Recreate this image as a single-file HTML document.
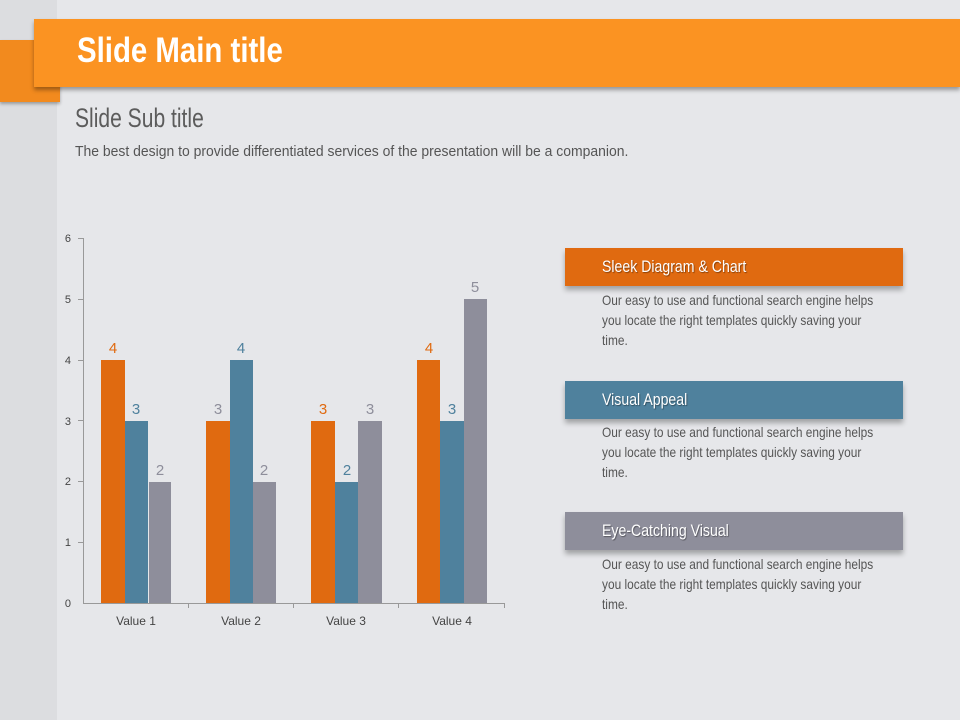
<!DOCTYPE html>
<html><head><meta charset="utf-8"><style>
body{margin:0;width:960px;height:720px;overflow:hidden;background:#e3e4e7;font-family:"Liberation Sans",sans-serif;position:relative}
.strip{position:absolute;left:0;top:0;width:57px;height:720px;background:#dcdde0}
.page{position:absolute;left:57px;top:0;width:903px;height:720px;background:#e6e7ea}
.tab{position:absolute;left:0;top:40px;width:60px;height:62px;background:#f28a1e;box-shadow:0 2px 3px rgba(0,0,0,.3)}
.title{position:absolute;left:34px;top:19px;width:926px;height:68px;background:#fb9322;box-shadow:0 3px 4px rgba(0,0,0,.35)}
.s{display:inline-block;white-space:nowrap;transform-origin:0 0}
.title .s{position:absolute;left:43px;top:12px;color:#fff;font-size:35px;font-weight:bold;transform:scaleX(.84)}
.sub{position:absolute;left:75px;top:103px;font-size:27px;color:#5c5c5c;transform:scaleX(.78)}
.desc{position:absolute;left:75px;top:143px;font-size:15px;color:#555;transform:scaleX(.93)}
.box{position:absolute;left:565px;width:338px;height:38px;box-shadow:0 4px 5px rgba(0,0,0,.3)}
.box .s{position:absolute;left:37px;top:9px;color:#fff;font-size:17px;text-shadow:1px 1px 1px rgba(0,0,0,.4);transform:scaleX(.83)}
.txt{position:absolute;left:602px;font-size:14px;line-height:20px;color:#555;transform:scaleX(.85)}
</style></head><body>
<div class="strip"></div><div class="page"></div>
<div class="tab"></div>
<div class="title"><span class="s">Slide Main title</span></div>
<div class="sub s">Slide Sub title</div>
<div class="desc s">The best design to provide differentiated services of the presentation will be a companion.</div>
<svg style="position:absolute;left:0;top:0" width="960" height="720" font-family="Liberation Sans, sans-serif">
<g font-size="11" fill="#444" text-anchor="end">
<text x="71" y="607">0</text><text x="71" y="546">1</text><text x="71" y="485">2</text><text x="71" y="425">3</text><text x="71" y="364">4</text><text x="71" y="303">5</text><text x="71" y="242">6</text>
</g>
<g stroke="#999" stroke-width="1">
<line x1="83.5" y1="238" x2="83.5" y2="603"/><line x1="83" y1="603.5" x2="504" y2="603.5"/>
<line x1="78" y1="238.5" x2="83" y2="238.5"/><line x1="78" y1="299.5" x2="83" y2="299.5"/><line x1="78" y1="360.5" x2="83" y2="360.5"/><line x1="78" y1="420.5" x2="83" y2="420.5"/><line x1="78" y1="481.5" x2="83" y2="481.5"/><line x1="78" y1="542.5" x2="83" y2="542.5"/>
<line x1="188.5" y1="603" x2="188.5" y2="608"/><line x1="293.5" y1="603" x2="293.5" y2="608"/><line x1="398.5" y1="603" x2="398.5" y2="608"/><line x1="504.5" y1="603" x2="504.5" y2="608"/>
</g>
<g font-size="12" fill="#444" text-anchor="middle">
<text x="136" y="625">Value 1</text><text x="241" y="625">Value 2</text><text x="346" y="625">Value 3</text><text x="452" y="625">Value 4</text>
</g>
<g>
<rect x="101" y="360" width="24" height="243" fill="#e06a10"/><rect x="125" y="421" width="23" height="182" fill="#4f819d"/><rect x="149" y="482" width="22" height="121" fill="#8e8e9b"/>
<rect x="206" y="421" width="24" height="182" fill="#e06a10"/><rect x="230" y="360" width="23" height="243" fill="#4f819d"/><rect x="253" y="482" width="23" height="121" fill="#8e8e9b"/>
<rect x="311" y="421" width="24" height="182" fill="#e06a10"/><rect x="335" y="482" width="23" height="121" fill="#4f819d"/><rect x="358" y="421" width="24" height="182" fill="#8e8e9b"/>
<rect x="417" y="360" width="23" height="243" fill="#e06a10"/><rect x="440" y="421" width="24" height="182" fill="#4f819d"/><rect x="464" y="299" width="23" height="304" fill="#8e8e9b"/>
</g>
<g font-size="15" text-anchor="middle">
<text x="113" y="353" fill="#e06a10">4</text><text x="136" y="414" fill="#4f819d">3</text><text x="160" y="475" fill="#8e8e9b">2</text>
<text x="218" y="414" fill="#8e8e9b">3</text><text x="241" y="353" fill="#4f819d">4</text><text x="264" y="475" fill="#8e8e9b">2</text>
<text x="323" y="414" fill="#e06a10">3</text><text x="347" y="475" fill="#4f819d">2</text><text x="370" y="414" fill="#8e8e9b">3</text>
<text x="429" y="353" fill="#e06a10">4</text><text x="452" y="414" fill="#4f819d">3</text><text x="475" y="292" fill="#8e8e9b">5</text>
</g>
</svg>
<div class="box" style="top:248px;background:#e06a10"><span class="s">Sleek Diagram &amp; Chart</span></div>
<div class="txt s" style="top:290px">Our easy to use and functional search engine helps<br>you locate the right templates quickly saving your<br>time.</div>
<div class="box" style="top:381px;background:#4f819d"><span class="s">Visual Appeal</span></div>
<div class="txt s" style="top:422px">Our easy to use and functional search engine helps<br>you locate the right templates quickly saving your<br>time.</div>
<div class="box" style="top:512px;background:#8e8e9b"><span class="s">Eye-Catching Visual</span></div>
<div class="txt s" style="top:554px">Our easy to use and functional search engine helps<br>you locate the right templates quickly saving your<br>time.</div>
</body></html>
